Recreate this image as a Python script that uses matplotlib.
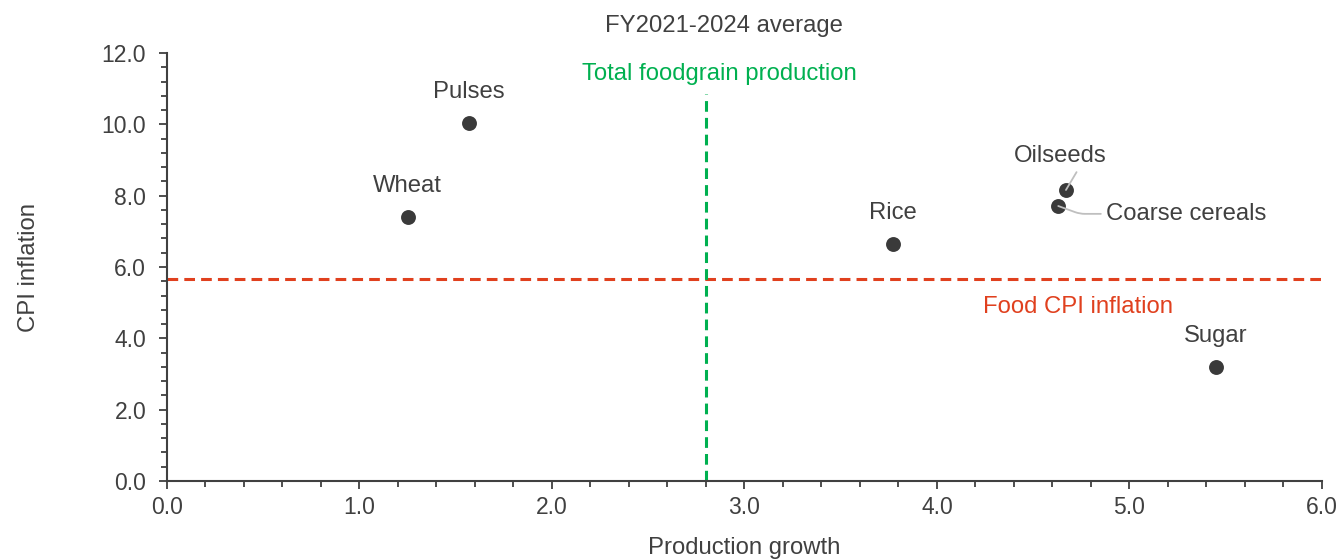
import matplotlib
matplotlib.use("Agg")
import matplotlib.pyplot as plt
from matplotlib.ticker import MultipleLocator, FormatStrFormatter

plt.rcParams['font.family'] = ['Liberation Sans', 'DejaVu Sans']

crops = ["Wheat", "Pulses", "Rice", "Oilseeds", "Coarse cereals", "Sugar"]
production_growth = [1.25, 1.57, 3.77, 4.67, 4.63, 5.45]
cpi_inflation = [7.40, 10.04, 6.64, 8.16, 7.71, 3.20]
total_foodgrain_growth = 2.80
food_cpi_inflation = 5.66

TXT = "#404040"
FS = 16.5
FL = 17.2
fig = plt.figure(figsize=(13.39, 5.59), dpi=100)
ax = fig.add_axes([0.1247, 0.1395, 0.8626, 0.7657])

ax.scatter(production_growth, cpi_inflation, s=115, color="#3a3a3a", zorder=3, linewidths=0)
ax.axhline(food_cpi_inflation, color="#E0401E", lw=2.2, ls=(0, (3.5, 2)), zorder=2)
ax.plot([total_foodgrain_growth, total_foodgrain_growth], [0, 10.85], color="#00B050",
        lw=2.2, ls=(0, (3.5, 2)), zorder=2)

ax.set_xlim(0, 6)
ax.set_ylim(0, 12)
ax.xaxis.set_major_locator(MultipleLocator(1))
ax.xaxis.set_minor_locator(MultipleLocator(0.2))
ax.yaxis.set_major_locator(MultipleLocator(2))
ax.yaxis.set_minor_locator(MultipleLocator(0.4))
ax.xaxis.set_major_formatter(FormatStrFormatter('%.1f'))
ax.yaxis.set_major_formatter(FormatStrFormatter('%.1f'))
for s in ["top", "right"]:
    ax.spines[s].set_visible(False)
for s in ["left", "bottom"]:
    ax.spines[s].set_color(TXT)
    ax.spines[s].set_linewidth(1.5)
ax.tick_params(which="both", direction="out", colors=TXT, labelsize=FS, width=1.3)
ax.tick_params(which="major", length=6)
ax.tick_params(which="minor", length=4)
ax.tick_params(axis="x", pad=5)
ax.tick_params(axis="y", pad=9)

ax.set_xlabel("Production growth", fontsize=FL, color=TXT, labelpad=13)
ax.set_ylabel("CPI inflation", fontsize=FL, color=TXT, labelpad=44)
fig.text(0.5407, 1 - 26 / 559, "FY2021-2024 average", fontsize=FL, color=TXT,
         ha="center", va="center")

# point labels
label_offsets = {
    "Wheat": (0, 0.87),
    "Pulses": (0, 0.87),
    "Rice": (0, 0.87),
    "Sugar": (0, 0.87),
}
for name, x, y in zip(crops, production_growth, cpi_inflation):
    if name in label_offsets:
        dx, dy = label_offsets[name]
        ax.text(x + dx, y + dy, name, ha="center", va="center", fontsize=FL, color=TXT)

i = crops.index("Oilseeds")
ax.text(production_growth[i] - 0.03, cpi_inflation[i] + 0.95, "Oilseeds",
        ha="center", va="center", fontsize=FL, color=TXT)
ax.annotate("", xy=(production_growth[i], cpi_inflation[i]),
            xytext=(production_growth[i] + 0.055, cpi_inflation[i] + 0.5),
            arrowprops=dict(arrowstyle="-", color="#bfbfbf", lw=1.3,
                            shrinkA=0, shrinkB=0), zorder=4)
i = crops.index("Coarse cereals")
ax.annotate("Coarse cereals", xy=(production_growth[i], cpi_inflation[i]),
            xytext=(4.88, cpi_inflation[i] - 0.22),
            ha="left", va="center", fontsize=FL, color=TXT,
            arrowprops=dict(arrowstyle="-", color="#bfbfbf", lw=1.3,
                            shrinkA=2, shrinkB=0,
                            connectionstyle="angle,angleA=0,angleB=160,rad=5"),
            zorder=4)

ax.text(total_foodgrain_growth + 0.07, 11.4, "Total foodgrain production", ha="center",
        va="center", fontsize=FL, color="#00B050")
ax.text(4.73, 4.88, "Food CPI inflation", ha="center", va="center", fontsize=FL,
        color="#E0401E")

fig.savefig("out.png", dpi=100)
